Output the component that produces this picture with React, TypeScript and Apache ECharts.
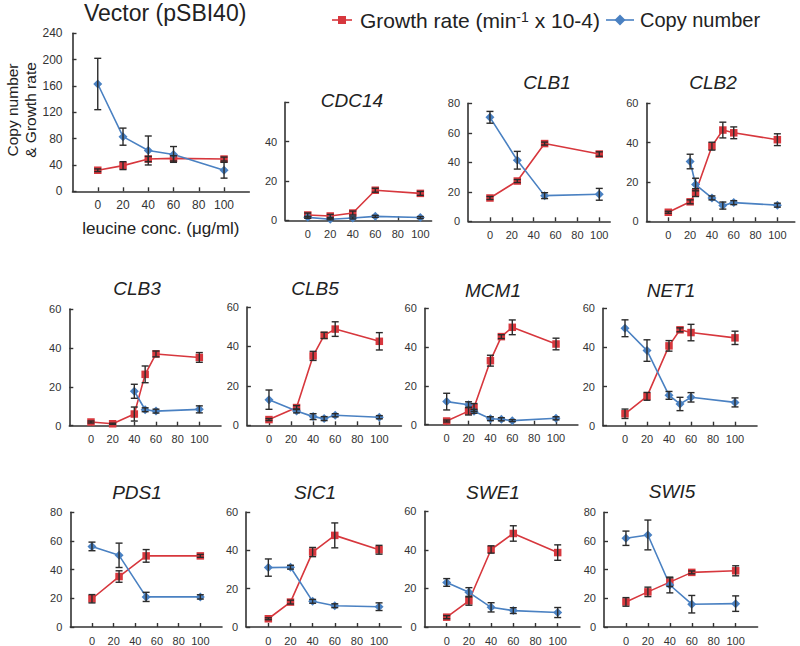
import React, { useEffect, useRef } from 'react';
import * as echarts from 'echarts';

const RED = '#d7373d';
const BLUE = '#4a81c2';
const ERR = '#2b2b2b';
const AXIS = '#333333';
const FONT = 'Liberation Sans';

// ---- data (x = leucine conc. µg/ml) ----
const vectorX = [0, 20, 40, 60, 100];
const vectorGrowth = [32, 39, 49, 50, 49];
const vectorGrowthErr = [2, 6, 4, 4, 3];
const vectorCopy = [163, 83, 62, 56, 32];
const vectorCopyErr = [39, 13, 22, 12, 12];

const cdc14X = [0, 20, 40, 60, 100];
const cdc14Growth = [2.7, 2.2, 3.7, 15.3, 13.7];
const cdc14GrowthErr = [1, 0.8, 1, 1, 1];
const cdc14Copy = [1.5, 0.5, 1.2, 2.0, 1.4];
const cdc14CopyErr = [0.5, 0.3, 0.5, 0.5, 0.5];

const clb1X = [0, 25, 50, 100];
const clb1Growth = [15.8, 27.3, 52.7, 45.6];
const clb1GrowthErr = [1, 1, 1, 1.5];
const clb1Copy = [70.5, 41.4, 17.4, 18.3];
const clb1CopyErr = [4, 6, 2, 4];

const clb2GrowthX = [0, 20, 25, 40, 50, 60, 100];
const clb2Growth = [4.6, 9.9, 14.6, 38.2, 46.4, 45, 41.5];
const clb2GrowthErr = [0.5, 1, 2, 2, 4, 3, 3];
const clb2CopyX = [20, 25, 40, 50, 60, 100];
const clb2Copy = [30.4, 18.7, 11.9, 8, 9.5, 8.2];
const clb2CopyErr = [3.7, 3.2, 1, 1.8, 1, 1];

const clb3GrowthX = [0, 20, 40, 50, 60, 100];
const clb3Growth = [1.9, 1.0, 6.0, 26.4, 36.9, 35.1];
const clb3GrowthErr = [0.5, 0.3, 3.6, 4.3, 1.5, 2.5];
const clb3CopyX = [40, 50, 60, 100];
const clb3Copy = [17.7, 8.2, 7.5, 8.4];
const clb3CopyErr = [3.6, 1, 1, 1.8];

const clb5X = [0, 25, 40, 50, 60, 100];
const clb5Growth = [2.9, 9.0, 35.2, 45.6, 48.8, 42.6];
const clb5GrowthErr = [0.5, 1, 2.3, 1.6, 3.7, 4.4];
const clb5Copy = [13, 7.3, 4.4, 3.4, 5.1, 4.1];
const clb5CopyErr = [4.9, 1, 1.5, 1, 0.8, 0.8];

const mcm1X = [0, 20, 25, 40, 50, 60, 100];
const mcm1Growth = [1.9, 7.0, 8.9, 33.0, 45.4, 50.2, 41.6];
const mcm1GrowthErr = [0.5, 2, 2, 2.8, 1, 3.8, 3];
const mcm1Copy = [11.9, 10.3, 6.9, 3.1, 2.8, 2.1, 3.3];
const mcm1CopyErr = [4.3, 1.5, 1, 1, 0.8, 0.5, 0.8];

const net1X = [0, 20, 40, 50, 60, 100];
const net1Growth = [6.1, 15, 40.8, 49, 47.6, 44.9];
const net1GrowthErr = [2.4, 2, 2.7, 1, 4.2, 3.4];
const net1Copy = [49.8, 38.4, 15.5, 11.1, 14.5, 11.9];
const net1CopyErr = [4.3, 5.5, 2, 3.4, 2.4, 2.3];

const pds1X = [0, 25, 50, 100];
const pds1Growth = [19.7, 35.2, 49.6, 49.6];
const pds1GrowthErr = [2.9, 4, 4.4, 1];
const pds1Copy = [56.2, 50, 21, 21];
const pds1CopyErr = [3, 8.5, 3.2, 1.5];

const sic1X = [0, 20, 40, 60, 100];
const sic1Growth = [4.3, 13, 39.1, 47.8, 40.3];
const sic1GrowthErr = [0.5, 1, 2.4, 6.5, 2.3];
const sic1Copy = [31, 31.2, 13.4, 11.1, 10.6];
const sic1CopyErr = [4.5, 1, 1, 1, 2];

const swe1X = [0, 20, 40, 60, 100];
const swe1Growth = [5.1, 13.6, 40.2, 48.5, 38.6];
const swe1GrowthErr = [0.8, 2.3, 1.9, 4, 4];
const swe1Copy = [23.1, 18, 10.2, 8.5, 7.5];
const swe1CopyErr = [2, 2.4, 2.4, 1.5, 2.6];

const swi5X = [0, 20, 40, 60, 100];
const swi5Growth = [17.5, 24.5, 31.3, 38.1, 39.2];
const swi5GrowthErr = [3, 3.3, 3, 1, 3.5];
const swi5Copy = [61.9, 64.2, 29.3, 15.9, 16.3];
const swi5CopyErr = [5, 10.4, 5.5, 6.1, 5.4];

const xTickValues = [0, 20, 40, 60, 80, 100];

type Panel = {
  title: string;
  gx: number[]; g: number[]; ge: number[];
  cx: number[]; c: number[]; ce: number[];
  yMax: number; yInt: number; yLabels?: number[]; xMax: number;
  box: [number, number, number, number]; // left, top, right, bottom
  tx: number; ty: number;
};

const panels: Panel[] = [
  { title: 'Vector (pSBI40)', gx: vectorX, g: vectorGrowth, ge: vectorGrowthErr, cx: vectorX, c: vectorCopy, ce: vectorCopyErr,
    yMax: 240, yInt: 40, xMax: 120, box: [72.5, 33.3, 249.3, 191.3], tx: 84, ty: 13 },
  { title: 'CDC14', gx: cdc14X, g: cdc14Growth, ge: cdc14GrowthErr, cx: cdc14X, c: cdc14Copy, ce: cdc14CopyErr,
    yMax: 60, yInt: 20, yLabels: [0, 20, 40], xMax: 110, box: [285.2, 102.4, 431.6, 220.3], tx: 352, ty: 100 },
  { title: 'CLB1', gx: clb1X, g: clb1Growth, ge: clb1GrowthErr, cx: clb1X, c: clb1Copy, ce: clb1CopyErr,
    yMax: 80, yInt: 20, xMax: 110, box: [468.1, 103.3, 610.2, 221.3], tx: 547, ty: 82 },
  { title: 'CLB2', gx: clb2GrowthX, g: clb2Growth, ge: clb2GrowthErr, cx: clb2CopyX, c: clb2Copy, ce: clb2CopyErr,
    yMax: 60, yInt: 20, xMax: 116, box: [646.5, 103.3, 794.8, 221.3], tx: 713, ty: 82 },
  { title: 'CLB3', gx: clb3GrowthX, g: clb3Growth, ge: clb3GrowthErr, cx: clb3CopyX, c: clb3Copy, ce: clb3CopyErr,
    yMax: 60, yInt: 20, xMax: 120, box: [69.3, 309, 221, 425.7], tx: 137, ty: 288 },
  { title: 'CLB5', gx: clb5X, g: clb5Growth, ge: clb5GrowthErr, cx: clb5X, c: clb5Copy, ce: clb5CopyErr,
    yMax: 60, yInt: 20, xMax: 120, box: [246.9, 307, 401.4, 425.3], tx: 315, ty: 288 },
  { title: 'MCM1', gx: mcm1X, g: mcm1Growth, ge: mcm1GrowthErr, cx: mcm1X, c: mcm1Copy, ce: mcm1CopyErr,
    yMax: 60, yInt: 20, xMax: 120, box: [424.8, 308.3, 577.9, 424.7], tx: 493, ty: 290 },
  { title: 'NET1', gx: net1X, g: net1Growth, ge: net1GrowthErr, cx: net1X, c: net1Copy, ce: net1CopyErr,
    yMax: 60, yInt: 20, xMax: 120, box: [603, 308.3, 757, 425.7], tx: 671, ty: 290 },
  { title: 'PDS1', gx: pds1X, g: pds1Growth, ge: pds1GrowthErr, cx: pds1X, c: pds1Copy, ce: pds1CopyErr,
    yMax: 80, yInt: 20, xMax: 120, box: [70.3, 512.3, 222, 629], tx: 137, ty: 492 },
  { title: 'SIC1', gx: sic1X, g: sic1Growth, ge: sic1GrowthErr, cx: sic1X, c: sic1Copy, ce: sic1CopyErr,
    yMax: 60, yInt: 20, xMax: 120, box: [246.2, 512, 401.2, 628.7], tx: 315, ty: 492 },
  { title: 'SWE1', gx: swe1X, g: swe1Growth, ge: swe1GrowthErr, cx: swe1X, c: swe1Copy, ce: swe1CopyErr,
    yMax: 60, yInt: 20, xMax: 120, box: [424.5, 511.3, 579.9, 629.3], tx: 493, ty: 492 },
  { title: 'SWI5', gx: swi5X, g: swi5Growth, ge: swi5GrowthErr, cx: swi5X, c: swi5Copy, ce: swi5CopyErr,
    yMax: 80, yInt: 20, xMax: 120, box: [604, 512.3, 757.6, 630], tx: 672, ty: 491 },
];

function errorRender(params: any, api: any) {
  const x = api.value(0);
  const y = api.value(1);
  const e = api.value(2);
  const top = api.coord([x, y + e]);
  const bot = api.coord([x, y - e]);
  const w = 3.5;
  const style = { stroke: ERR, lineWidth: 1.4 };
  return {
    type: 'group',
    children: [
      { type: 'line', shape: { x1: top[0], y1: top[1], x2: bot[0], y2: bot[1] }, style },
      { type: 'line', shape: { x1: top[0] - w, y1: top[1], x2: top[0] + w, y2: top[1] }, style },
      { type: 'line', shape: { x1: bot[0] - w, y1: bot[1], x2: bot[0] + w, y2: bot[1] }, style },
    ],
  };
}

function buildOption() {
  const grid: any[] = [];
  const xAxis: any[] = [];
  const yAxis: any[] = [];
  const series: any[] = [];
  const graphic: any[] = [];

  panels.forEach((p, i) => {
    const [l, t, r, b] = p.box;
    grid.push({ left: l, top: t, width: r - l, height: b - t });
    const isVec = i === 0;
    const lblSize = isVec ? 12 : 11;
    xAxis.push({
      type: 'value', gridIndex: i, min: -20, max: p.xMax, interval: 20,
      splitLine: { show: false },
      axisLine: { onZero: false, lineStyle: { color: AXIS, width: 1.6 } },
      axisTick: { inside: true, length: 4, customValues: xTickValues, lineStyle: { color: AXIS, width: 1.4 } },
      axisLabel: { customValues: xTickValues, color: AXIS, fontSize: lblSize, fontFamily: FONT, margin: 8 },
      ...(isVec ? {
        name: 'leucine conc. (\u03bcg/ml)', nameLocation: 'middle', nameGap: 29,
        nameTextStyle: { fontSize: 17, fontFamily: FONT, color: '#222' },
      } : {}),
    });
    yAxis.push({
      type: 'value', gridIndex: i, min: 0, max: p.yMax, interval: p.yInt,
      splitLine: { show: false },
      axisLine: { show: true, onZero: false, lineStyle: { color: AXIS, width: 1.6 } },
      axisTick: { show: true, inside: true, length: 4, lineStyle: { color: AXIS, width: 1.4 } },
      axisLabel: { color: AXIS, fontSize: lblSize, fontFamily: FONT, margin: isVec ? 10 : 8,
        ...(p.yLabels ? { customValues: p.yLabels } : {}) },
    });

    series.push({
      type: 'line', name: 'Growth rate', xAxisIndex: i, yAxisIndex: i,
      data: p.gx.map((x, k) => [x, p.g[k]]),
      symbol: 'rect', symbolSize: 7.5, showSymbol: true,
      lineStyle: { color: RED, width: 1.6 }, itemStyle: { color: RED },
      z: 3,
    });
    series.push({
      type: 'line', name: 'Copy number', xAxisIndex: i, yAxisIndex: i,
      data: p.cx.map((x, k) => [x, p.c[k]]),
      symbol: 'diamond', symbolSize: 9, showSymbol: true,
      lineStyle: { color: BLUE, width: 1.6 }, itemStyle: { color: BLUE },
      z: 3,
    });
    series.push({
      type: 'custom', xAxisIndex: i, yAxisIndex: i, renderItem: errorRender,
      encode: { x: 0, y: 1 },
      data: p.gx.map((x, k) => [x, p.g[k], p.ge[k]]), z: 4, silent: true,
    });
    series.push({
      type: 'custom', xAxisIndex: i, yAxisIndex: i, renderItem: errorRender,
      encode: { x: 0, y: 1 },
      data: p.cx.map((x, k) => [x, p.c[k], p.ce[k]]), z: 4, silent: true,
    });

    graphic.push({
      type: 'text', x: p.tx, y: p.ty,
      style: {
        text: p.title,
        font: isVec ? `23px "${FONT}"` : `italic 19px "${FONT}"`,
        fill: '#222',
        textAlign: isVec ? 'left' : 'center', textVerticalAlign: 'middle',
      },
    });
  });

  // y axis name for vector panel
  graphic.push({
    type: 'text', x: 21, y: 110, rotation: Math.PI / 2,
    style: {
      text: 'Copy number\n& Growth rate', font: `15.5px "${FONT}"`, fill: '#222',
      textAlign: 'center', textVerticalAlign: 'middle', lineHeight: 18,
    },
  });

  // legend
  graphic.push({ type: 'line', shape: { x1: 332, y1: 20, x2: 352, y2: 20 }, style: { stroke: RED, lineWidth: 1.6 } });
  graphic.push({ type: 'rect', shape: { x: 338, y: 16, width: 8, height: 8 }, style: { fill: RED } });
  graphic.push({
    type: 'text', x: 360, y: 20,
    style: {
      text: '{a|Growth rate (min}{s|-1}{a| x 10-4)}',
      textVerticalAlign: 'middle', textAlign: 'left', fill: '#222',
      rich: {
        a: { fontSize: 21, fontFamily: FONT, fill: '#222', verticalAlign: 'bottom' },
        s: { fontSize: 14, fontFamily: FONT, fill: '#222', verticalAlign: 'top' },
      },
    },
  });
  graphic.push({ type: 'line', shape: { x1: 606, y1: 20, x2: 634, y2: 20 }, style: { stroke: BLUE, lineWidth: 1.6 } });
  graphic.push({ type: 'polygon', shape: { points: [[620, 14.5], [625.5, 20], [620, 25.5], [614.5, 20]] }, style: { fill: BLUE } });
  graphic.push({
    type: 'text', x: 640, y: 20,
    style: { text: 'Copy number', font: `20px "${FONT}"`, fill: '#222', textAlign: 'left', textVerticalAlign: 'middle' },
  });

  return {
    animation: false,
    backgroundColor: '#ffffff',
    textStyle: { fontFamily: FONT },
    grid, xAxis, yAxis, series, graphic,
  };
}

export default function App() {
  const ref = useRef<HTMLDivElement>(null);
  useEffect(() => {
    if (!ref.current) return;
    const chart = echarts.init(ref.current, null, { renderer: 'svg' });
    chart.setOption(buildOption() as any);
    return () => chart.dispose();
  }, []);
  return <div ref={ref} style={{ width: 800, height: 646, position: 'absolute', left: 0, top: 0 }} />;
}
